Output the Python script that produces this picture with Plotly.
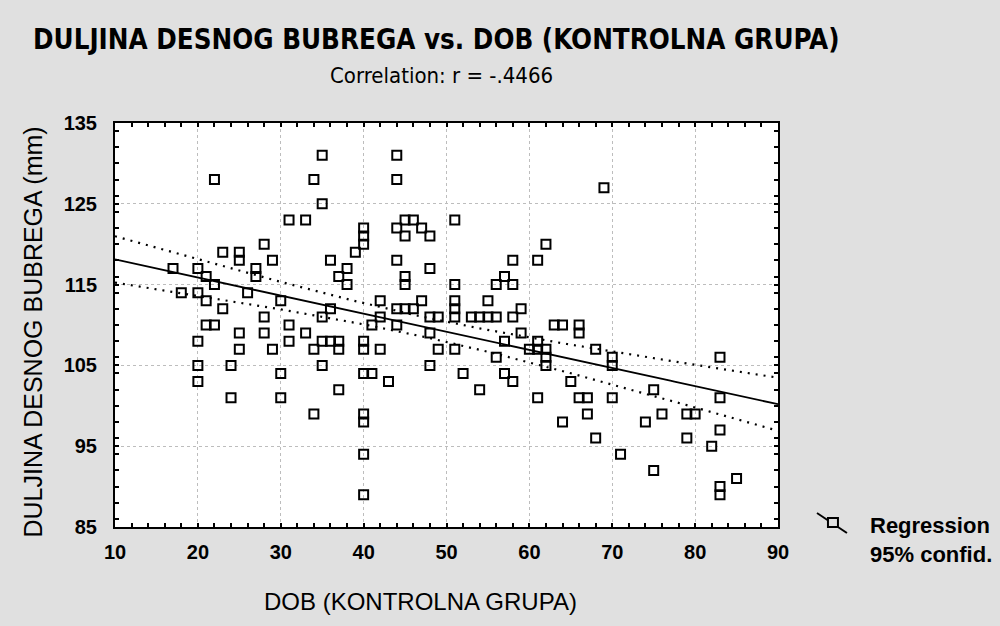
import numpy as np
import plotly.graph_objects as go

# Age (DOB) and right kidney length (mm) for the control group
dob = [17, 18, 20, 20, 20, 20, 20, 21, 21, 21, 22, 22, 22, 23, 23, 24, 24, 25, 25, 25,
       25, 26, 27, 27, 28, 28, 28, 29, 29, 30, 30, 30, 31, 31, 31, 33, 33, 34, 34, 34,
       35, 35, 35, 35, 35, 36, 36, 36, 37, 37, 37, 37, 38, 38, 39, 40, 40, 40, 40, 40,
       40, 40, 40, 40, 40, 41, 41, 42, 42, 42, 43, 44, 44, 44, 44, 44, 44, 45, 45, 45,
       45, 45, 46, 46, 47, 47, 48, 48, 48, 48, 48, 49, 49, 51, 51, 51, 51, 51, 51, 52,
       53, 54, 54, 55, 55, 56, 56, 56, 57, 57, 57, 58, 58, 58, 58, 59, 59, 60, 61, 61,
       61, 61, 62, 62, 62, 62, 63, 64, 64, 65, 66, 66, 66, 67, 67, 68, 68, 69, 70, 70,
       70, 71, 74, 75, 75, 76, 79, 80, 79, 82, 83, 83, 83, 83, 83, 85]
duljina = [117, 114, 117, 114, 108, 105, 103, 116, 113, 110, 128, 115, 110, 119, 112, 105, 101, 119, 118, 109,
           107, 114, 117, 116, 120, 111, 109, 118, 107, 113, 104, 101, 123, 110, 108, 123, 109, 128, 107, 99,
           131, 125, 111, 108, 105, 118, 112, 108, 116, 108, 107, 102, 117, 115, 119, 122, 121, 120, 108, 107,
           104, 99, 98, 94, 89, 110, 104, 113, 111, 107, 103, 131, 128, 122, 118, 112, 110, 123, 121, 116,
           115, 112, 123, 112, 122, 113, 121, 117, 111, 109, 105, 111, 107, 123, 115, 113, 112, 111, 107, 104,
           111, 111, 102, 113, 111, 115, 111, 106, 116, 108, 104, 118, 115, 111, 103, 112, 109, 107, 118, 108,
           107, 101, 120, 107, 106, 105, 110, 110, 98, 103, 110, 109, 101, 101, 99, 107, 96, 127, 106, 105,
           101, 94, 98, 102, 92, 99, 99, 99, 96, 95, 106, 101, 97, 90, 89, 91]

x_ticks = [10, 20, 30, 40, 50, 60, 70, 80, 90]
y_ticks = [85, 95, 105, 115, 125, 135]

# Least-squares fit with 95% confidence band for the mean
x = np.array(dob, dtype=float)
y = np.array(duljina, dtype=float)
n = len(x)
slope, intercept = np.polyfit(x, y, 1)
resid = y - (intercept + slope * x)
s = np.sqrt(np.sum(resid ** 2) / (n - 2))
sxx = np.sum((x - x.mean()) ** 2)
t_crit = 1.976
xf = np.linspace(10, 90, 161)
yf = intercept + slope * xf
half = t_crit * s * np.sqrt(1.0 / n + (xf - x.mean()) ** 2 / sxx)

dots = dict(color="black", width=2.2, dash="2px,6px")
fig = go.Figure()
fig.add_trace(go.Scatter(x=xf, y=yf + half, mode="lines", line=dots, hoverinfo="skip"))
fig.add_trace(go.Scatter(x=xf, y=yf - half, mode="lines", line=dots, hoverinfo="skip"))
fig.add_trace(go.Scatter(x=xf, y=yf, mode="lines",
                         line=dict(color="black", width=1.8), hoverinfo="skip"))
fig.add_trace(go.Scatter(x=dob, y=duljina, mode="markers",
                         marker=dict(symbol="square-open", size=9, color="black",
                                     line=dict(color="black", width=2))))

SANS = "Liberation Sans, Arial, sans-serif"
COND = "DejaVu Sans Condensed, Liberation Sans Narrow, Liberation Sans, sans-serif"
axis_common = dict(
    showline=True, linecolor="black", linewidth=2, mirror="ticks",
    ticks="inside", ticklen=4, tickwidth=2, tickcolor="black",
    showgrid=True, gridcolor="#bdbdbd", griddash="dot", gridwidth=1,
    zeroline=False,
    tickfont=dict(family=SANS, size=20, color="black", weight="bold"),
    minor=dict(ticks="inside", ticklen=4, tickwidth=2, tickcolor="black", dtick=2, showgrid=False),
)

fig.update_xaxes(range=[10, 90], tickvals=x_ticks, ticktext=[str(v) for v in x_ticks],
                 ticklabelstandoff=6, **axis_common)
fig.update_yaxes(range=[85, 135], tickvals=y_ticks, ticktext=[str(v) for v in y_ticks],
                 ticklabelstandoff=12, **axis_common)

W, H = 1000, 626
L, R, T, B = 114.5, 778, 123, 527


def px(xp):
    return (xp - L) / (R - L)


def py(yp):
    return (B - yp) / (B - T)


annotations = [
    dict(text="DULJINA DESNOG BUBREGA vs. DOB (KONTROLNA GRUPA)", x=px(30), y=py(39),
         xanchor="left", yanchor="middle", showarrow=False,
         font=dict(family=COND, size=27.5, color="black", weight="bold")),
    dict(text="Correlation: r = -.4466", x=px(441), y=py(76), xanchor="center", yanchor="middle",
         showarrow=False, font=dict(family=COND, size=22, color="black")),
    dict(text="DOB (KONTROLNA GRUPA)", x=px(420), y=py(601), xanchor="center", yanchor="middle",
         showarrow=False, font=dict(family=SANS, size=24, color="black")),
    dict(text="DULJINA DESNOG BUBREGA (mm)", x=px(32), y=py(332), xanchor="center", yanchor="middle",
         textangle=-90, showarrow=False, font=dict(family=SANS, size=25, color="black")),
    dict(text="Regression", x=px(868), y=py(525), xanchor="left", yanchor="middle",
         showarrow=False, font=dict(family=SANS, size=22, color="black", weight="bold")),
    dict(text="95% confid.", x=px(868), y=py(554), xanchor="left", yanchor="middle",
         showarrow=False, font=dict(family=SANS, size=22, color="black", weight="bold")),
]
for a in annotations:
    a["xref"] = "paper"
    a["yref"] = "paper"

shapes = [
    dict(type="line", xref="paper", yref="paper", x0=px(817), y0=py(513), x1=px(847), y1=py(533),
         line=dict(color="black", width=2)),
    dict(type="rect", xref="paper", yref="paper", x0=px(828), y0=py(518), x1=px(838), y1=py(527),
         line=dict(color="black", width=2), fillcolor="#e0e0e0"),
]

fig.update_layout(
    width=W, height=H, showlegend=False,
    margin=dict(l=L, r=W - R, t=T, b=H - B),
    paper_bgcolor="#e0e0e0", plot_bgcolor="white",
    annotations=annotations, shapes=shapes,
)

fig.write_html("out.html")
